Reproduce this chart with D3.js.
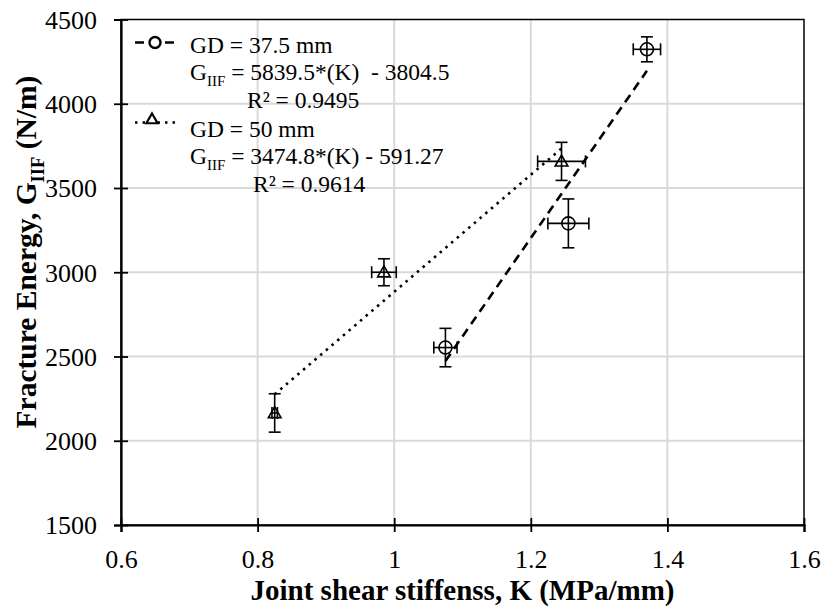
<!DOCTYPE html>
<html lang="en">
    <head>
        <meta charset="utf-8">
        <title>Fracture energy vs joint shear stiffness</title>
        <script src="https://d3js.org/d3.v7.min.js"></script>
        <style>
            body { margin: 0; background: #fff; }
            text { font-family: "Liberation Serif", "Times New Roman", serif; fill: #000; white-space: pre; }
        </style>
    </head>
    <body>
        <script type="text/javascript">
            // data
            var k375 = [1.075, 1.255, 1.37];
            var g375 = [2553, 3290, 4323];
            var kErr375 = [0.017, 0.03, 0.02];
            var gErr375 = [114, 145, 74];

            var k50 = [0.825, 0.985, 1.245];
            var g50 = [2165, 3000, 3658];
            var kErr50 = [0.004, 0.018, 0.035];
            var gErr50 = [114, 80, 113];

            var fitSlope = [5839.5, 3474.8];
            var fitIntercept = [-3804.5, -591.27];

            var xTicks = [0.6, 0.8, 1, 1.2, 1.4, 1.6];
            var yTicks = [1500, 2000, 2500, 3000, 3500, 4000, 4500];

            var width = 826, height = 612;
            var plotLeft = 121, plotRight = 804, plotTop = 19.5, plotBottom = 525;

            var svg = d3.select("body")
                .append("svg")
                .attr("width", width)
                .attr("height", height);

            var x = d3.scaleLinear().domain([0.6, 1.6]).range([plotLeft, plotRight]);
            var y = d3.scaleLinear().domain([1500, 4500]).range([plotBottom, plotTop]);

            // grid
            svg.append("g").selectAll("line")
                .data(xTicks.slice(1, -1))
                .enter().append("line")
                .attr("x1", function (d) { return x(d); })
                .attr("x2", function (d) { return x(d); })
                .attr("y1", plotTop).attr("y2", plotBottom)
                .attr("stroke", "#d9d9d9").attr("stroke-width", 2);
            svg.append("g").selectAll("line")
                .data(yTicks.slice(1, -1))
                .enter().append("line")
                .attr("y1", function (d) { return y(d); })
                .attr("y2", function (d) { return y(d); })
                .attr("x1", plotLeft).attr("x2", plotRight)
                .attr("stroke", "#d9d9d9").attr("stroke-width", 2);

            // frame
            svg.append("rect")
                .attr("x", plotLeft).attr("y", plotTop)
                .attr("width", plotRight - plotLeft).attr("height", plotBottom - plotTop)
                .attr("fill", "none").attr("stroke", "#000").attr("stroke-width", 1.5);

            // axes with crossing ticks
            var xAxis = svg.append("g")
                .attr("transform", "translate(0," + plotBottom + ")")
                .call(d3.axisBottom(x).tickValues(xTicks).tickSize(7)
                    .tickFormat(function (d) { return String(d); }));
            var yAxis = svg.append("g")
                .attr("transform", "translate(" + plotLeft + ",0)")
                .call(d3.axisLeft(y).tickValues(yTicks).tickSize(7).tickPadding(17)
                    .tickFormat(d3.format("d")));

            [xAxis, yAxis].forEach(function (ax) {
                ax.select(".domain").attr("stroke", "#000").attr("stroke-width", 2.2);
                ax.selectAll(".tick line").attr("stroke", "#000").attr("stroke-width", 1.8);
                ax.selectAll("text").attr("font-size", 26)
                    .attr("font-family", "Liberation Serif").attr("fill", "#000");
            });
            xAxis.selectAll(".tick line").attr("y1", -7);
            yAxis.selectAll(".tick line").attr("x1", 7);
            xAxis.selectAll("text").attr("dy", null).attr("y", 43);
            yAxis.selectAll("text").attr("dy", "0.34em");

            // trendlines
            var fitRanges = [d3.extent(k375), d3.extent(k50)];
            var fitDash = ["9,6", "2.5,5"];
            fitRanges.forEach(function (r, i) {
                svg.append("line")
                    .attr("x1", x(r[0])).attr("y1", y(fitSlope[i] * r[0] + fitIntercept[i]))
                    .attr("x2", x(r[1])).attr("y2", y(fitSlope[i] * r[1] + fitIntercept[i]))
                    .attr("stroke", "#000").attr("stroke-width", 2.6)
                    .attr("stroke-dasharray", fitDash[i]);
            });

            // error bars
            function errorBars(ks, gs, kErr, gErr) {
                var g = svg.append("g").attr("stroke", "#000").attr("stroke-width", 1.6);
                ks.forEach(function (k, i) {
                    var cx = x(k), cy = y(gs[i]);
                    var y0 = y(gs[i] - gErr[i]), y1 = y(gs[i] + gErr[i]);
                    var x0 = x(k - kErr[i]), x1 = x(k + kErr[i]);
                    g.append("line").attr("x1", cx).attr("x2", cx).attr("y1", y0).attr("y2", y1);
                    g.append("line").attr("x1", cx - 6).attr("x2", cx + 6).attr("y1", y0).attr("y2", y0);
                    g.append("line").attr("x1", cx - 6).attr("x2", cx + 6).attr("y1", y1).attr("y2", y1);
                    g.append("line").attr("x1", x0).attr("x2", x1).attr("y1", cy).attr("y2", cy);
                    g.append("line").attr("x1", x0).attr("x2", x0).attr("y1", cy - 6).attr("y2", cy + 6);
                    g.append("line").attr("x1", x1).attr("x2", x1).attr("y1", cy - 6).attr("y2", cy + 6);
                });
            }
            errorBars(k375, g375, kErr375, gErr375);
            errorBars(k50, g50, kErr50, gErr50);

            var triangle = d3.symbol().type(d3.symbolTriangle).size(70);

            svg.append("g").selectAll("circle")
                .data(k375)
                .enter().append("circle")
                .attr("cx", function (d) { return x(d); })
                .attr("cy", function (d, i) { return y(g375[i]); })
                .attr("r", 6.5)
                .attr("fill", "none").attr("stroke", "#000").attr("stroke-width", 1.6);

            svg.append("g").selectAll("path")
                .data(k50)
                .enter().append("path")
                .attr("d", triangle)
                .attr("transform", function (d, i) { return "translate(" + x(d) + "," + (y(g50[i]) + 1) + ")"; })
                .attr("fill", "none").attr("stroke", "#000").attr("stroke-width", 1.6);

            // legend
            var leg = svg.append("g");
            leg.append("line").attr("x1", 135).attr("x2", 177).attr("y1", 42.5).attr("y2", 42.5)
                .attr("stroke", "#000").attr("stroke-width", 2.6).attr("stroke-dasharray", "9,6");
            leg.append("circle").attr("cx", 155).attr("cy", 42.5).attr("r", 5.5)
                .attr("fill", "#fff").attr("stroke", "#000").attr("stroke-width", 2.4);
            leg.append("line").attr("x1", 135).attr("x2", 177).attr("y1", 122.5).attr("y2", 122.5)
                .attr("stroke", "#000").attr("stroke-width", 2.6).attr("stroke-dasharray", "2.5,5");
            leg.append("path").attr("d", d3.symbol().type(d3.symbolTriangle).size(55))
                .attr("transform", "translate(152,120)")
                .attr("fill", "#fff").attr("stroke", "#000").attr("stroke-width", 2.2);

            var legSize = 23.5;
            function eqText(xx, yy, rest) {
                var t = leg.append("text").attr("x", xx).attr("y", yy).attr("font-size", legSize);
                t.append("tspan").text("G");
                t.append("tspan").attr("font-size", 15).attr("dy", 6).text("IIF");
                t.append("tspan").attr("dy", -6).text(rest);
            }
            leg.append("text").attr("x", 190).attr("y", 53).attr("font-size", legSize).text("GD = 37.5 mm");
            eqText(190, 80, " = 5839.5*(K)  - 3804.5");
            leg.append("text").attr("x", 247).attr("y", 108).attr("font-size", legSize).text("R² = 0.9495");
            leg.append("text").attr("x", 190).attr("y", 137).attr("font-size", legSize).text("GD = 50 mm");
            eqText(190, 164, " = 3474.8*(K) - 591.27");
            leg.append("text").attr("x", 253).attr("y", 192).attr("font-size", legSize).text("R² = 0.9614");

            // axis titles
            svg.append("text")
                .attr("x", (plotLeft + plotRight) / 2).attr("y", 600)
                .attr("text-anchor", "middle")
                .attr("font-size", 29).attr("font-weight", "bold")
                .text("Joint shear stiffenss, K (MPa/mm)");

            var yt = svg.append("text")
                .attr("transform", "translate(36," + 252 + ") rotate(-90)")
                .attr("text-anchor", "middle")
                .attr("font-size", 29.5).attr("font-weight", "bold");
            yt.append("tspan").text("Fracture Energy, G");
            yt.append("tspan").attr("font-size", 18.5).attr("dy", 8).text("IIF");
            yt.append("tspan").attr("dy", -8).text(" (N/m)");
        </script>
    </body>
</html>
